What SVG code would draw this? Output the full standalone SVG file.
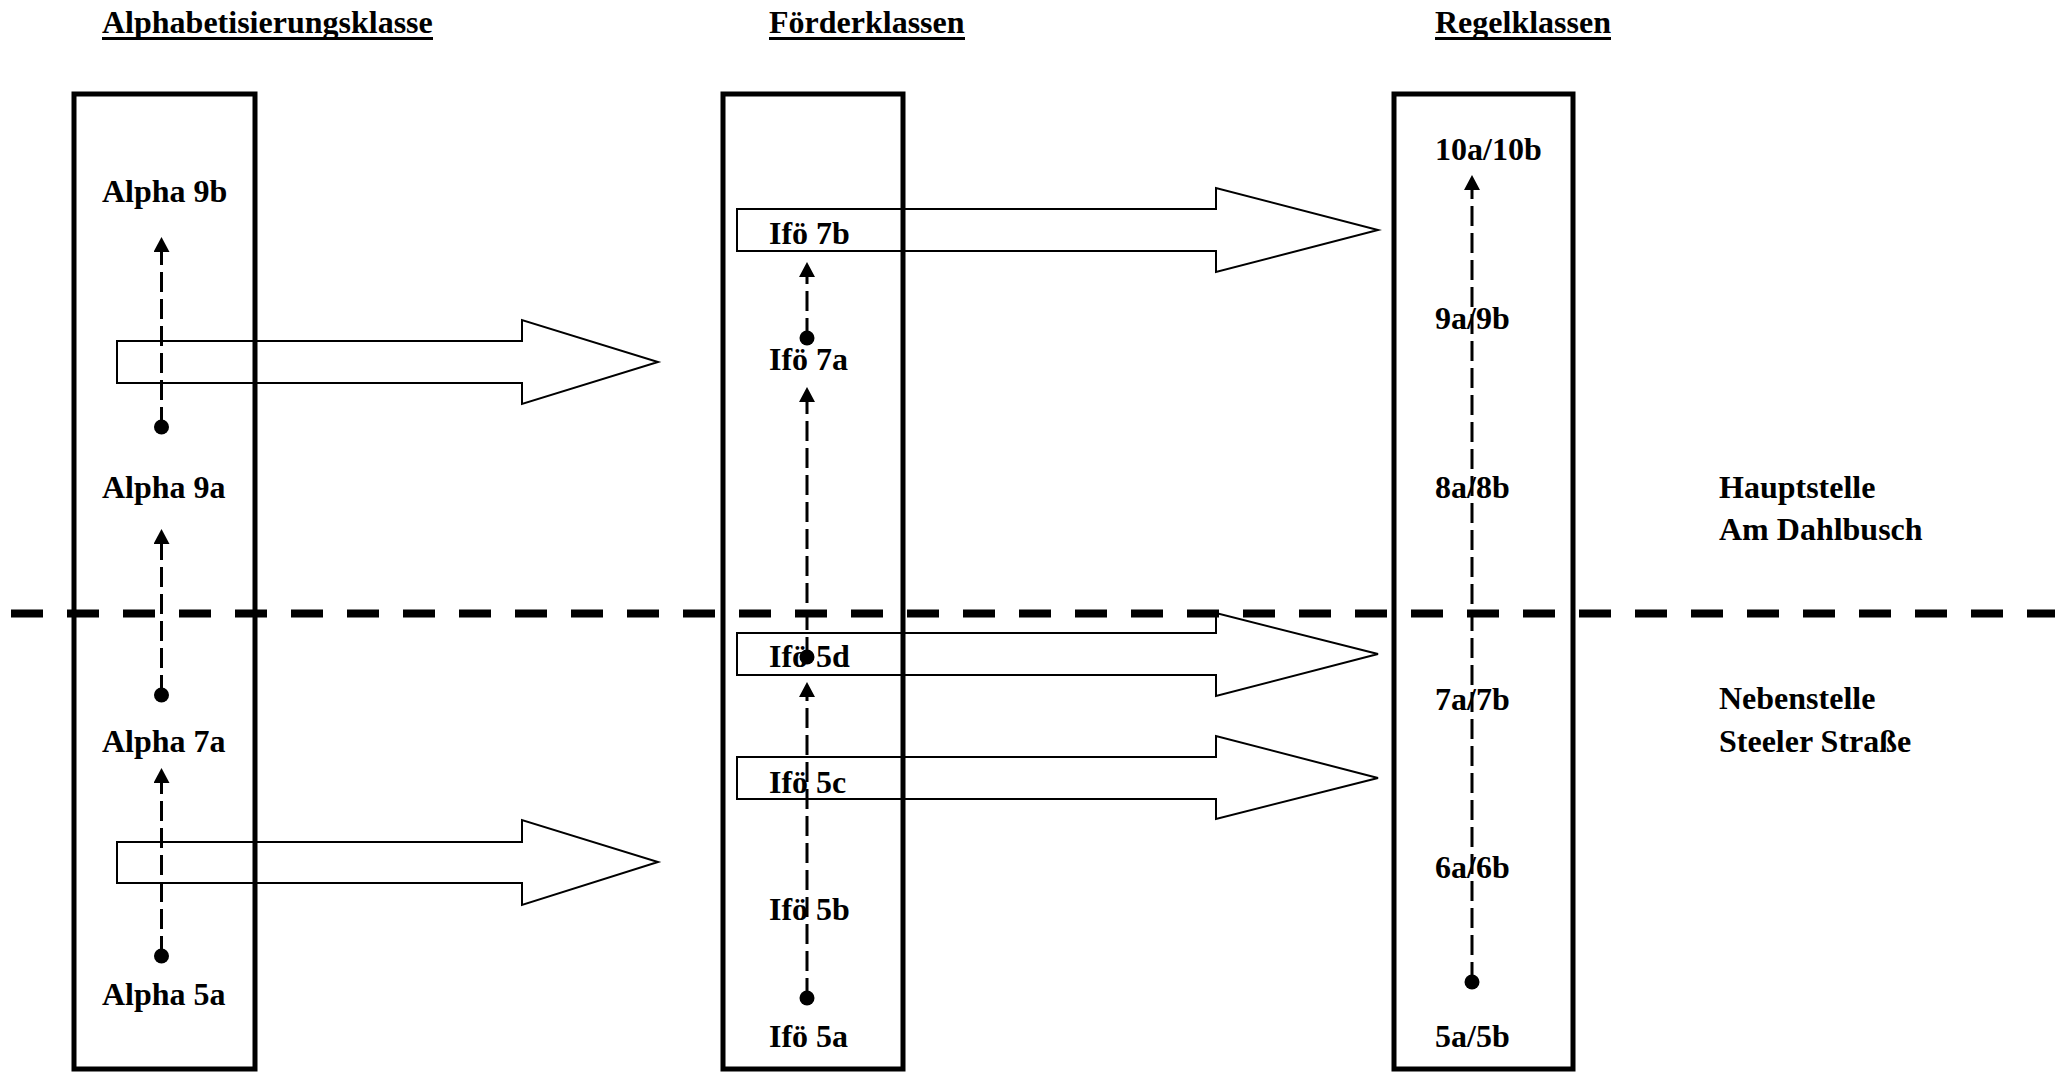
<svg xmlns="http://www.w3.org/2000/svg" width="2055" height="1072" viewBox="0 0 2055 1072">
<style>
.col{fill:none;stroke:#000;stroke-width:5}
.t{font-family:"Liberation Serif","Times New Roman",serif;font-weight:bold;font-size:32px;fill:#000}
.ul{stroke:#000;stroke-width:3}
.big{fill:none;stroke:#000;stroke-width:2;stroke-linejoin:miter}
.dash{fill:none;stroke:#000;stroke-width:3;stroke-dasharray:20 7;marker-end:url(#ah);marker-start:url(#dot)}
.sep{fill:none;stroke:#000;stroke-width:8;stroke-dasharray:32 24}
</style>
<defs>
<marker id="ah" viewBox="0 -8 15 16" markerWidth="15" markerHeight="16" refX="0" refY="0" orient="auto" markerUnits="userSpaceOnUse">
<path d="M0,-8 L15,0 L0,8 Z" fill="#000"/>
</marker>
<marker id="dot" viewBox="-8 -8 16 16" markerWidth="16" markerHeight="16" refX="0" refY="0" orient="auto" markerUnits="userSpaceOnUse">
<circle cx="0" cy="0" r="7.5" fill="#000"/>
</marker>
</defs>
<rect width="2055" height="1072" fill="#fff"/>

<g id="titles">
<text class="t" x="102" y="33">Alphabetisierungsklasse</text>
<line class="ul" x1="102" y1="38.5" x2="433" y2="38.5"/>
<text class="t" x="769" y="33">Förderklassen</text>
<line class="ul" x1="769" y1="38.5" x2="965" y2="38.5"/>
<text class="t" x="1435" y="33">Regelklassen</text>
<line class="ul" x1="1435" y1="38.5" x2="1611" y2="38.5"/>
</g>

<g id="col-alpha"><rect class="col" x="74" y="94" width="181" height="975"/></g>
<g id="col-foerder"><rect class="col" x="723" y="94" width="180" height="975"/></g>
<g id="col-regel"><rect class="col" x="1394" y="94" width="179" height="975"/></g>

<g id="separator"><line class="sep" x1="11" y1="613.5" x2="2055" y2="613.5"/></g>

<g id="transfer-arrows">
<polygon class="big" points="117,341 522,341 522,320 658,362 522,404 522,383 117,383"/>
<polygon class="big" points="117,842 522,842 522,820 658,862 522,905 522,883 117,883"/>
<polygon class="big" points="737,209 1216,209 1216,188 1378,230 1216,272 1216,251 737,251"/>
<polygon class="big" points="737,633 1216,633 1216,613 1378,654 1216,696 1216,675 737,675"/>
<polygon class="big" points="737,757 1216,757 1216,736 1378,778 1216,819 1216,799 737,799"/>
</g>

<g id="alpha-9b"><text class="t" x="102" y="202">Alpha 9b</text></g>
<g id="alpha-9a"><text class="t" x="102" y="498">Alpha 9a</text></g>
<g id="alpha-7a"><text class="t" x="102" y="752">Alpha 7a</text></g>
<g id="alpha-5a"><text class="t" x="102" y="1005">Alpha 5a</text></g>

<g id="ifoe-7b"><text class="t" x="769" y="244">Ifö 7b</text></g>
<g id="ifoe-7a"><text class="t" x="769" y="370">Ifö 7a</text></g>
<g id="ifoe-5d"><text class="t" x="769" y="667">Ifö 5d</text></g>
<g id="ifoe-5c"><text class="t" x="769" y="793">Ifö 5c</text></g>
<g id="ifoe-5b"><text class="t" x="769" y="920">Ifö 5b</text></g>
<g id="ifoe-5a"><text class="t" x="769" y="1047">Ifö 5a</text></g>

<g id="regel-10"><text class="t" x="1435" y="160">10a/10b</text></g>
<g id="regel-9"><text class="t" x="1435" y="329">9a/9b</text></g>
<g id="regel-8"><text class="t" x="1435" y="498">8a/8b</text></g>
<g id="regel-7"><text class="t" x="1435" y="710">7a/7b</text></g>
<g id="regel-6"><text class="t" x="1435" y="878">6a/6b</text></g>
<g id="regel-5"><text class="t" x="1435" y="1047">5a/5b</text></g>

<g id="hauptstelle">
<text class="t" x="1719" y="498">Hauptstelle</text>
<text class="t" x="1719" y="540">Am Dahlbusch</text>
</g>
<g id="nebenstelle">
<text class="t" x="1719" y="709">Nebenstelle</text>
<text class="t" x="1719" y="752">Steeler Straße</text>
</g>

<g id="connectors">
<path class="dash" d="M161.5,427 V252"/>
<path class="dash" d="M161.5,695 V544"/>
<path class="dash" d="M161.5,956 V783"/>
<path class="dash" d="M807,338 V277"/>
<path class="dash" d="M807,657 V402"/>
<path class="dash" d="M807,998 V697"/>
<path class="dash" d="M1472,982 V190"/>
</g>
</svg>
